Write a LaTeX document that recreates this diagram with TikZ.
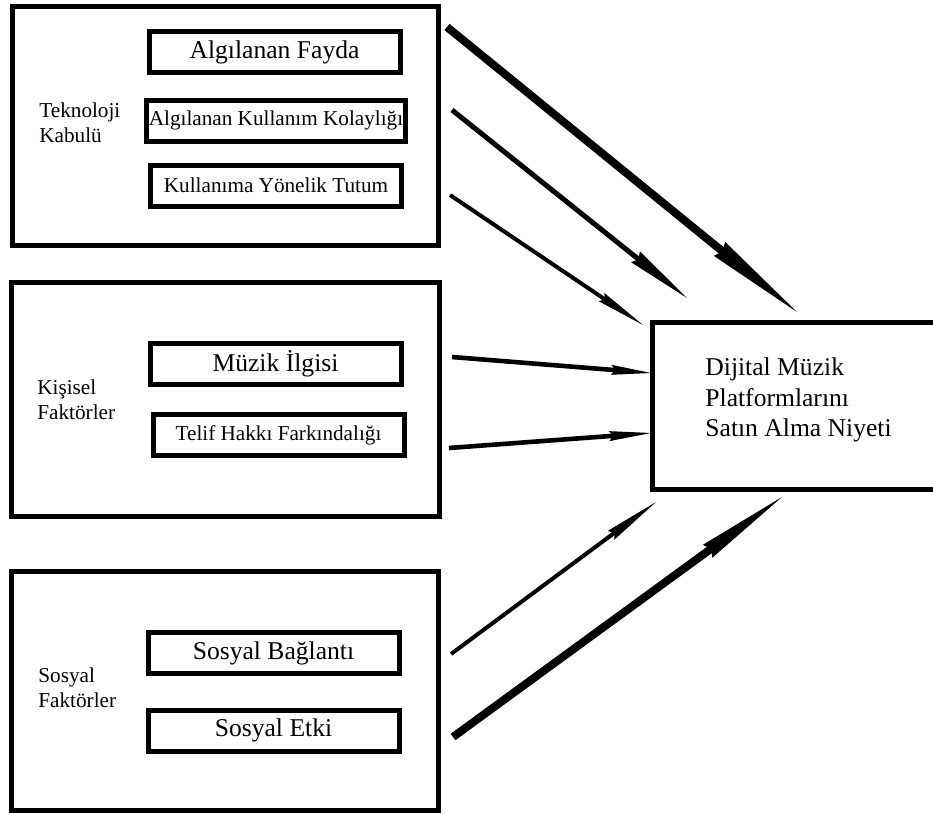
\documentclass[tikz,border=0pt]{standalone}
\usepackage{fontspec}
\setmainfont{Liberation Serif}
\usetikzlibrary{arrows.meta}
\newcommand{\buyuk}{\fontsize{12.8}{15.3}\selectfont}
\newcommand{\kucuk}{\fontsize{10.6}{12.5}\selectfont}
\tikzset{
        kutu/.style={draw, rectangle, line width=2.5pt}, % every framed box
        faktor/.style={kutu, minimum width=125.5pt, minimum height=20.5pt, inner sep=1pt, font=\buyuk}, % inner factor boxes
        baslik/.style={anchor=west, align=left, inner sep=0pt, font=\kucuk}, % group titles
        ok/.style n args={3}{line width=#1, -{Stealth[length=#2, width=#3, inset=2pt, line width=0pt]}}, % width, head length, head width
    }
\begin{document}
\begin{tikzpicture}[x=0.5pt, y=-0.5pt]
    \clip (0,0) rectangle (933,814);
    % groups
    \node[kutu, minimum width=213pt, minimum height=119.5pt] (kabul) at (225,125.5) {};
    \node[kutu, minimum width=214pt, minimum height=117pt] (kisisel) at (225,399) {};
    \node[kutu, minimum width=213.5pt, minimum height=119.5pt] (sosyal) at (224.5,690.5) {};
    \node[baslik] (kabulAd) at (39,123) {Teknoloji\\Kabulü};
    \node[baslik] (kisiselAd) at (37,400) {Kişisel\\Faktörler};
    \node[baslik] (sosyalAd) at (38,688) {Sosyal\\Faktörler};
    % factors
    \node[faktor] (fayda) at (274.5,52) {Algılanan Fayda};
    \node[faktor, font=\kucuk] (kolaylik) at (276,120.5) {Algılanan Kullanım Kolaylığı};
    \node[faktor, font=\kucuk] (tutum) at (276,185.5) {Kullanıma Yönelik Tutum};
    \node[faktor] (ilgi) at (275.5,364) {Müzik İlgisi};
    \node[faktor, font=\kucuk] (telif) at (278.5,435) {Telif Hakkı Farkındalığı};
    \node[faktor] (baglanti) at (273.5,653) {Sosyal Bağlantı};
    \node[faktor] (etki) at (273.5,730.5) {Sosyal Etki};
    % outcome
    \node[kutu, minimum width=146.5pt, minimum height=83.5pt] (niyet) at (798.5,405.5) {};
    \node[baslik, font=\buyuk] (niyetAd) at (705,400) {Dijital Müzik\\Platformlarını\\Satın Alma Niyeti};
    % arrow ends
    \coordinate (b1) at (447,27);  \coordinate (u1) at (797,312);
    \coordinate (b2) at (452,110); \coordinate (u2) at (687,298);
    \coordinate (b3) at (450,195); \coordinate (u3) at (643,325);
    \coordinate (b4) at (452,357); \coordinate (u4) at (651,373);
    \coordinate (b5) at (449,448); \coordinate (u5) at (651,433);
    \coordinate (b6) at (451,654); \coordinate (u6) at (656,502);
    \coordinate (b7) at (453,737); \coordinate (u7) at (782,497);
    \draw[ok={4pt}{50pt}{9pt}] (b1) -- (u1);
    \draw[ok={2.5pt}{33pt}{7pt}] (b2) -- (u2);
    \draw[ok={2pt}{25pt}{5pt}] (b3) -- (u3);
    \draw[ok={2.3pt}{20pt}{5pt}] (b4) -- (u4);
    \draw[ok={2.3pt}{21pt}{5pt}] (b5) -- (u5);
    \draw[ok={2pt}{28pt}{5.5pt}] (b6) -- (u6);
    \draw[ok={4pt}{46pt}{8pt}] (b7) -- (u7);
\end{tikzpicture}
\end{document}
